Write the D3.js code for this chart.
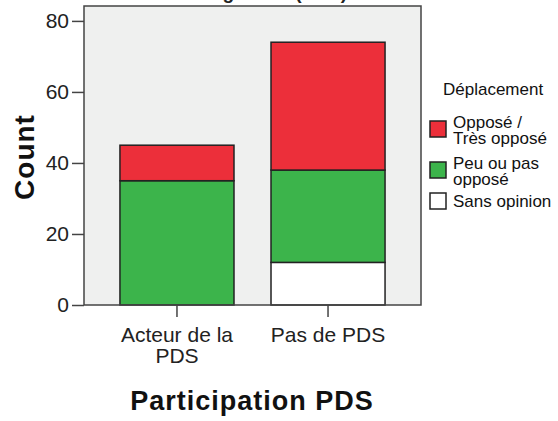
<!DOCTYPE html>
<html>
<head>
<meta charset="utf-8">
<script src="https://cdn.jsdelivr.net/npm/d3@7"></script>
<style>
  body { margin: 0; background: #fff; }
  text { font-family: "Liberation Sans", Arial, sans-serif; }
</style>
</head>
<body>
<div id="chart"></div>
<script>
// data
var categories = ["Acteur de la PDS", "Pas de PDS"];
var seriesNames = ["Sans opinion", "Peu ou pas opposé", "Opposé / Très opposé"];
var sansOpinion = [0, 12];
var peuOuPas = [35, 26];
var oppose = [10, 36];
var yTicks = [0, 20, 40, 60, 80];
var colors = ["#ffffff", "#3cb44b", "#ec2f3a"];

var width = 558, height = 421;
var margin = {top: 6, right: 137, bottom: 116, left: 84};
var plotW = width - margin.left - margin.right;
var plotH = height - margin.top - margin.bottom;

var svg = d3.select("#chart").append("svg")
    .attr("width", width)
    .attr("height", height);

var g = svg.append("g")
    .attr("transform", "translate(" + margin.left + "," + margin.top + ")");

var rows = categories.map(function(c, i) {
  return {cat: c, "Sans opinion": sansOpinion[i], "Peu ou pas opposé": peuOuPas[i], "Opposé / Très opposé": oppose[i]};
});
var stacked = d3.stack().keys(seriesNames)(rows);

var xScale = d3.scaleBand().domain(categories).range([0, plotW]).paddingInner(0.245).paddingOuter(0.238);
var yScale = d3.scaleLinear().domain([0, 84.2]).range([plotH, 0]);

// background
g.append("rect")
  .attr("width", plotW).attr("height", plotH)
  .attr("fill", "#eff0ef");

// title, cut off at the top edge as in the original
svg.append("text")
  .attr("x", 347).attr("y", -1)
  .attr("text-anchor", "end")
  .style("font-size", "19px")
  .style("font-weight", "bold")
  .style("fill", "#222")
  .text("Aménagement (PDS)");

// bars
g.selectAll(".layer")
  .data(stacked)
  .enter().append("g")
  .attr("fill", function(d, i) { return colors[i]; })
  .selectAll("rect")
  .data(function(d) { return d; })
  .enter().append("rect")
  .filter(function(d) { return d[1] > d[0]; })
  .attr("x", function(d) { return xScale(d.data.cat); })
  .attr("width", xScale.bandwidth())
  .attr("y", function(d) { return yScale(d[1]); })
  .attr("height", function(d) { return yScale(d[0]) - yScale(d[1]); })
  .attr("stroke", "#222")
  .attr("stroke-width", 1.5);

// frame
g.append("rect")
  .attr("width", plotW).attr("height", plotH)
  .attr("fill", "none")
  .attr("stroke", "#444")
  .attr("stroke-width", 1.5);

// y axis
var yAxis = g.append("g")
  .call(d3.axisLeft(yScale).tickValues(yTicks).tickSize(12).tickPadding(3));
yAxis.select(".domain").remove();
yAxis.selectAll("line").attr("stroke", "#444").attr("stroke-width", 1.5);
yAxis.selectAll("text").style("font-size", "21px").style("fill", "#222").attr("font-family", null);

// x axis
var xAxis = g.append("g")
  .attr("transform", "translate(0," + plotH + ")")
  .call(d3.axisBottom(xScale).tickSize(12).tickPadding(4));
xAxis.select(".domain").remove();
xAxis.selectAll("line").attr("stroke", "#444").attr("stroke-width", 1.5);
xAxis.selectAll("text").remove();

var xLabels = [["Acteur de la", "PDS"], ["Pas de PDS"]];
categories.forEach(function(c, i) {
  var t = g.append("text")
    .attr("x", xScale(c) + xScale.bandwidth() / 2)
    .attr("y", 342 - margin.top)
    .attr("text-anchor", "middle")
    .style("font-size", "21px")
    .style("fill", "#222");
  xLabels[i].forEach(function(line, j) {
    t.append("tspan")
      .attr("x", xScale(c) + xScale.bandwidth() / 2)
      .attr("dy", j === 0 ? 0 : 21)
      .text(line);
  });
});

// axis titles
svg.append("text")
  .attr("transform", "translate(34," + 157 + ") rotate(-90)")
  .attr("text-anchor", "middle")
  .style("font-size", "28px")
  .style("font-weight", "bold")
  .style("letter-spacing", "1px")
  .style("fill", "#111")
  .text("Count");

svg.append("text")
  .attr("x", 252)
  .attr("y", 410)
  .attr("text-anchor", "middle")
  .style("font-size", "27px")
  .style("font-weight", "bold")
  .style("letter-spacing", "1px")
  .style("fill", "#111")
  .text("Participation PDS");

// legend
var legend = svg.append("g").attr("transform", "translate(429,0)");
legend.append("text")
  .attr("x", 14).attr("y", 95)
  .style("font-size", "17px")
  .style("fill", "#111")
  .text("Déplacement");

var legendItems = [
  {label: ["Opposé /", "Très opposé"], color: colors[2], y: 121},
  {label: ["Peu ou pas", "opposé"], color: colors[1], y: 162},
  {label: ["Sans opinion"], color: colors[0], y: 193}
];
legendItems.forEach(function(d) {
  legend.append("rect")
    .attr("x", 1).attr("y", d.y)
    .attr("width", 16).attr("height", 16)
    .attr("fill", d.color)
    .attr("stroke", "#222")
    .attr("stroke-width", 1.5);
  var t = legend.append("text")
    .attr("x", 24).attr("y", d.y + (d.label.length > 1 ? 7 : 14))
    .style("font-size", "17px")
    .style("fill", "#111");
  d.label.forEach(function(line, j) {
    t.append("tspan").attr("x", 24).attr("dy", j === 0 ? 0 : 16).text(line);
  });
});
</script>
</body>
</html>
